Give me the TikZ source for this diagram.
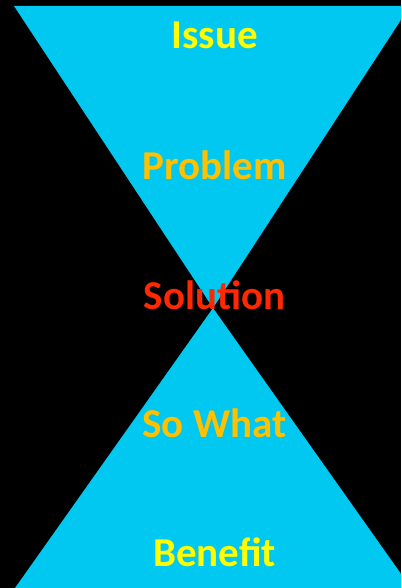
\documentclass[tikz,border=0pt]{standalone}
\usepackage{fontspec}
\setmainfont{Carlito}
\usepackage{tikz}
\usetikzlibrary{positioning}

\definecolor{hourcyan}{RGB}{0,200,240}
\definecolor{stepyellow}{RGB}{255,255,0}
\definecolor{stepgold}{RGB}{255,192,0}
\definecolor{stepred}{RGB}{255,40,0}

\tikzset{
  steplabel/.style={anchor=base,inner sep=0pt,font=\fontsize{41}{41}\selectfont\bfseries}
}

\begin{document}
\begin{tikzpicture}[x=1pt,y=-1pt]
    % Baggrund
    \useasboundingbox (0,0) rectangle (401,588);
    \fill[black] (0,0) rectangle (401,588);
    \clip (0,0) rectangle (401,588);
    % Timeglas: to trekanter der moedes i midten
    \fill[hourcyan] (14,6) -- (410,6) -- (213,308) -- cycle;
    \fill[hourcyan] (213,308) -- (411,588) -- (15,588) -- cycle;
    % Trin fra top til bund
    \foreach \nm/\txt/\col/\yb in {issue/Issue/stepyellow/49,
                                   problem/Problem/stepgold/179,
                                   solution/Solution/stepred/309,
                                   sowhat/So What/stepgold/437,
                                   benefit/Benefit/stepyellow/566} {
      \node[steplabel,text=\col] (\nm) at (214.5,\yb) {\txt};
    }
  \end{tikzpicture}
\end{document}
